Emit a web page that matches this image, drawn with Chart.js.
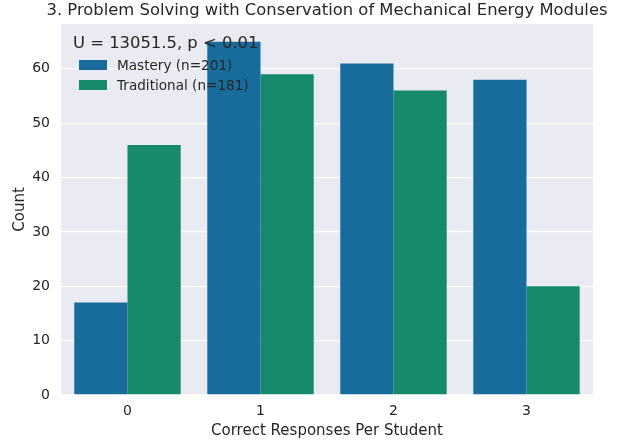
<!DOCTYPE html>
<html lang="en">
<head>
    <meta charset="UTF-8">
    <script src="https://cdn.jsdelivr.net/npm/chart.js"></script>
    <title>Conservation of Mechanical Energy</title>
    <style>
        body { margin: 0; background: #fff; }
        #wrap { width: 618px; height: 440px; }
    </style>
</head>
<body>
<div id="wrap"><canvas id="chart" width="618" height="440"></canvas></div>
<script>
const categories = ['0', '1', '2', '3'];
const masteryCounts = [17, 65, 61, 58];
const traditionalCounts = [46, 59, 56, 20];
const seriesLabels = ['Mastery (n=201)', 'Traditional (n=181)'];
const yTicks = [0, 10, 20, 30, 40, 50, 60];
const statText = 'U = 13051.5, p < 0.01';
const titleText = '3. Problem Solving with Conservation of Mechanical Energy Modules';

const FONT = '"DejaVu Sans", sans-serif';
const textColor = '#262626';

// background, title and in-plot legend (seaborn style)
const seabornPlugin = {
    id: 'seaborn',
    beforeDraw(chart) {
        const { ctx, chartArea: a } = chart;
        ctx.save();
        ctx.fillStyle = '#EAEAF2';
        ctx.fillRect(a.left, a.top, a.right - a.left, a.bottom - a.top);
        ctx.restore();
    },
    afterDraw(chart) {
        const { ctx, chartArea: a } = chart;
        ctx.save();
        ctx.fillStyle = textColor;
        ctx.font = '16.4px ' + FONT;
        ctx.textAlign = 'center';
        ctx.textBaseline = 'middle';
        ctx.fillText(titleText, (a.left + a.right) / 2, 11);

        // legend
        ctx.textAlign = 'left';
        ctx.fillText(statText, 73, 44);
        ctx.font = '13.6px ' + FONT;
        chart.data.datasets.forEach((ds, i) => {
            const y = 65 + i * 20;
            ctx.fillStyle = ds.backgroundColor;
            ctx.fillRect(79, y - 5, 28, 10);
            ctx.fillStyle = textColor;
            ctx.fillText(ds.label, 117, y + 1);
        });
        ctx.restore();
    }
};

new Chart(document.getElementById('chart'), {
    type: 'bar',
    data: {
        labels: categories,
        datasets: [
            { label: seriesLabels[0], data: masteryCounts, backgroundColor: '#176c9c', borderWidth: 0 },
            { label: seriesLabels[1], data: traditionalCounts, backgroundColor: '#178a6b', borderWidth: 0 }
        ]
    },
    options: {
        responsive: false,
        animation: false,
        layout: { padding: { top: 24, right: 25, left: 0, bottom: 0 } },
        datasets: { bar: { barPercentage: 1, categoryPercentage: 0.8 } },
        plugins: {
            legend: { display: false },
            title: { display: false },
            tooltip: { enabled: false }
        },
        scales: {
            x: {
                grid: { display: false },
                border: { display: false },
                ticks: { color: textColor, font: { family: FONT, size: 14 }, padding: 0 },
                title: { display: true, text: 'Correct Responses Per Student', color: textColor,
                         font: { family: FONT, size: 15 }, padding: { top: 8, bottom: 0 } },
                afterFit(s) { s.height = 45; }
            },
            y: {
                min: 0,
                max: 68.25,
                afterBuildTicks(s) { s.ticks = yTicks.map(v => ({ value: v })); },
                grid: { color: '#ffffff', lineWidth: 1.3, drawTicks: false },
                border: { display: false },
                ticks: { color: textColor, font: { family: FONT, size: 14 }, padding: 11 },
                title: { display: true, text: 'Count', color: textColor,
                         font: { family: FONT, size: 15 }, padding: { top: 11, bottom: 4 } },
                afterFit(s) { s.width = 61; }
            }
        }
    },
    plugins: [seabornPlugin]
});
</script>
</body>
</html>
